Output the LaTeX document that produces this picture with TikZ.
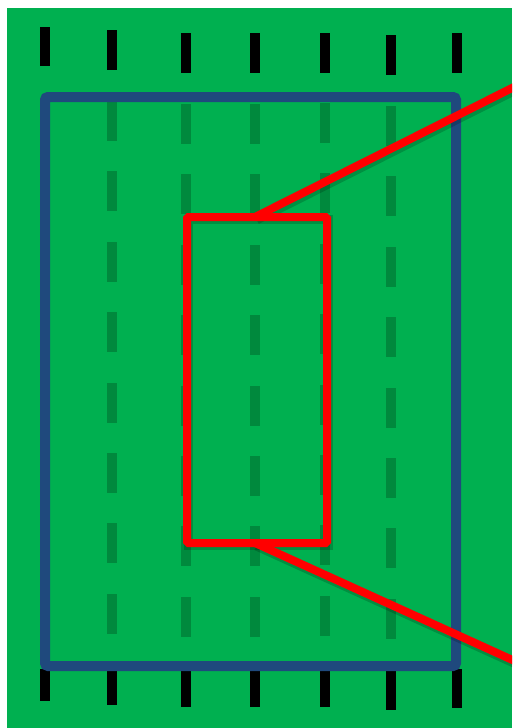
\documentclass[tikz,border=0pt]{standalone}
\usetikzlibrary{calc}
\definecolor{fieldgreen}{HTML}{00B050}
\definecolor{lanegreen}{HTML}{00893D}
\definecolor{frameblue}{HTML}{1F497D}
\definecolor{zoomred}{HTML}{FF0000}
\tikzset{
  lanedash/.style={fill=lanegreen},
  tickmark/.style={fill=black},
  bluebox/.style={draw=frameblue,line width=10pt,rounded corners=3pt},
  redbox/.style={draw=zoomred,line width=8pt,rounded corners=1.5pt},
  redline/.style={draw=zoomred,line width=8pt},
  redshadow/.style={draw=black,opacity=0.18,line width=10pt}
}
\begin{document}
\begin{tikzpicture}[x=1pt,y=-1pt]
\useasboundingbox (0,0) rectangle (512,728);
\fill[white] (0,0) rectangle (512,728);
\fill[fieldgreen] (7,8) rectangle (512,728);
% lane dashes
\foreach \cx/\sy in {112/101,186/104,255/104,325/103,391/106}{
  \foreach \k in {0,...,7}{
    \pgfmathsetmacro{\ya}{\sy+70.4*\k}
    \pgfmathsetmacro{\yb}{\ya+40}
    \fill[lanedash] (\cx-5,\ya) rectangle (\cx+5,\yb);
  }
}
% top tick marks
\foreach \cx/\ya/\yb in {45/27/66,112/30/70,186/33/73,255/33/73,325/33/73,391/35/75,457/33/73}{
  \fill[tickmark] (\cx-5,\ya) rectangle (\cx+5,\yb);
}
% bottom tick marks
\foreach \cx/\ya/\yb in {45/669/701,112/669/705,186/669/707,255/669/707,325/669/707,391/669/710,457/669/708}{
  \fill[tickmark] (\cx-5,\ya) rectangle (\cx+5,\yb);
}
% blue frame
\draw[bluebox] (45,97) rectangle (456,666);
% red zoom box
\coordinate (zt) at (255,217);
\coordinate (zb) at (255,543);
\coordinate (et) at (540,74);
\coordinate (eb) at (540,672.5);
\begin{scope}
\clip (7,8) rectangle (512,728);
\draw[redshadow] ($(zt)+(1.5,2.5)$) -- ($(et)+(1.5,2.5)$);
\draw[redshadow] ($(zb)+(1.5,2.5)$) -- ($(eb)+(1.5,2.5)$);
\draw[redshadow,line width=9pt] (188.5,219.5) rectangle (328.5,545.5);
\draw[redbox] (187,217) rectangle (327,543);
\draw[redline] (zt) -- (et);
\draw[redline] (zb) -- (eb);
\end{scope}
\end{tikzpicture}
\end{document}
